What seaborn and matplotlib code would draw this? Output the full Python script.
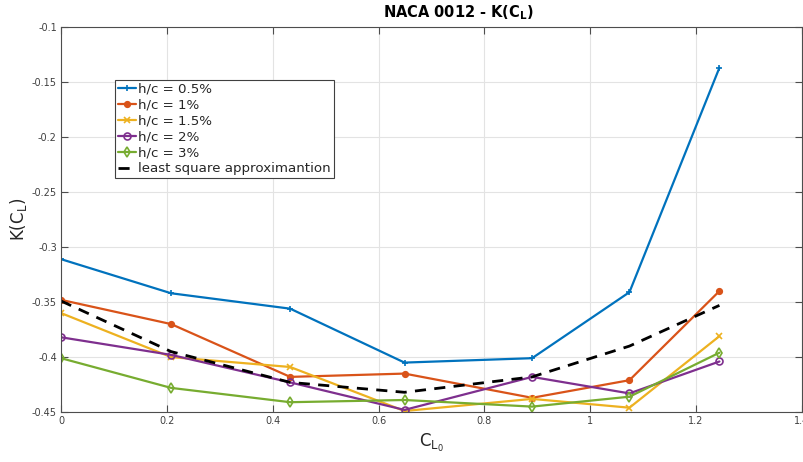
import matplotlib
matplotlib.use("Agg")
import matplotlib.pyplot as plt
import seaborn as sns
import pandas as pd

# Lift coefficient at zero ground-effect (x axis)
cl0 = [0.0, 0.208, 0.433, 0.649, 0.890, 1.074, 1.244]

# K(C_L) for each gap ratio h/c
k_h05 = [-0.311, -0.342, -0.356, -0.405, -0.401, -0.341, -0.137]
k_h10 = [-0.348, -0.370, -0.418, -0.415, -0.437, -0.421, -0.340]
k_h15 = [-0.360, -0.400, -0.409, -0.449, -0.438, -0.446, -0.381]
k_h20 = [-0.382, -0.398, -0.423, -0.448, -0.418, -0.433, -0.404]
k_h30 = [-0.401, -0.428, -0.441, -0.439, -0.445, -0.436, -0.396]
k_lsq = [-0.349, -0.395, -0.423, -0.432, -0.418, -0.390, -0.353]

series_labels = ["h/c = 0.5%", "h/c = 1%", "h/c = 1.5%", "h/c = 2%", "h/c = 3%"]
series_values = [k_h05, k_h10, k_h15, k_h20, k_h30]

x_ticks = [0, 0.2, 0.4, 0.6, 0.8, 1.0, 1.2, 1.4]
x_tick_labels = ["0", "0.2", "0.4", "0.6", "0.8", "1", "1.2", "1.4"]
y_ticks = [-0.45, -0.4, -0.35, -0.3, -0.25, -0.2, -0.15, -0.1]
y_tick_labels = ["-0.45", "-0.4", "-0.35", "-0.3", "-0.25", "-0.2", "-0.15", "-0.1"]

colors = ["#0072BD", "#D95319", "#EDB120", "#7E2F8E", "#77AC30"]
markers = ["+", "o", "x", "o", "d"]
marker_sizes = [5, 4, 5, 5, 5]
hollow = [False, False, False, True, True]

sns.set_theme(style="white")
plt.rcParams["font.family"] = ["DejaVu Sans"]

fig = plt.figure(figsize=(8.04, 4.62), dpi=100)
ax = fig.add_axes([0.0759, 0.108, 0.9216, 0.8336])

for lab, vals, c, m, ms, h in zip(series_labels, series_values, colors,
                                  markers, marker_sizes, hollow):
    df = pd.DataFrame({"CL0": cl0, "K": vals})
    kw = dict(markerfacecolor="none") if h else dict(markerfacecolor=c)
    sns.lineplot(data=df, x="CL0", y="K", ax=ax, color=c, marker=m,
                 markersize=ms, markeredgecolor=c, markeredgewidth=1.2,
                 linewidth=1.6, label=lab, sort=False, **kw)

df_lsq = pd.DataFrame({"CL0": cl0, "K": k_lsq})
sns.lineplot(data=df_lsq, x="CL0", y="K", ax=ax, color="black",
             linewidth=2.0, dashes=False, linestyle=(0, (4, 3)),
             label="least square approximantion", sort=False)

ax.set_xlim(0, 1.4)
ax.set_ylim(-0.45, -0.1)
ax.set_xticks(x_ticks)
ax.set_xticklabels(x_tick_labels)
ax.set_yticks(y_ticks)
ax.set_yticklabels(y_tick_labels)

axis_color = "#4d4d4d"
ax.grid(True, color="#e3e3e3", linewidth=0.8)
ax.set_axisbelow(True)
for s in ax.spines.values():
    s.set_color(axis_color)
    s.set_linewidth(0.8)
    s.set_visible(True)
ax.tick_params(axis="both", direction="in", length=5, width=0.8,
               colors=axis_color, labelcolor="#404040", labelsize=7,
               top=True, right=True, bottom=True, left=True, pad=3)

ax.set_xlabel(r"$\mathregular{C_{L_0}}$", fontsize=12, color="#262626", labelpad=4)
ax.set_ylabel(r"$\mathregular{K(C_L)}$", fontsize=12, color="#262626", labelpad=2)
ax.text(0.537, 1.014, r"NACA 0012 - K(C$_\mathbf{L}$)", transform=ax.transAxes,
        ha="center", va="bottom", fontsize=10.5, fontweight="bold", color="black")

leg = ax.legend(loc="upper left", bbox_to_anchor=(0.0729, 0.862), borderaxespad=0,
                fontsize=9.6, frameon=True, fancybox=False, framealpha=1,
                handlelength=1.4, handletextpad=0.15, labelspacing=0.22,
                borderpad=0.2, edgecolor="#404040")
leg.get_frame().set_linewidth(0.8)

fig.savefig("out.png", dpi=100)
